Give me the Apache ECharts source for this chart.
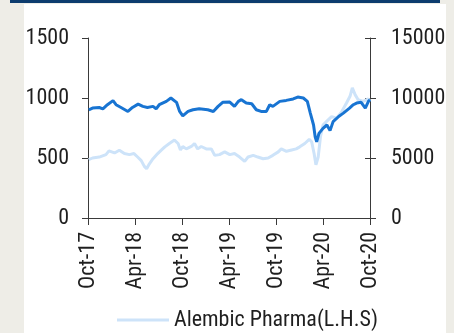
<!DOCTYPE html>
<html>
<head>
<meta charset="utf-8">
<script src="https://cdn.jsdelivr.net/npm/echarts@6/dist/echarts.min.js"></script>
<style>
  html, body { margin: 0; padding: 0; background: #eeede7; }
  #chart { width: 454px; height: 333px; }
</style>
</head>
<body>
<div id="chart"></div>
<script>
// Alembic Pharma share price (left axis, Rs)
const alembicDates = [
  '2017-10-04','2017-10-19','2017-11-14','2017-12-10','2017-12-22','2018-01-13','2018-02-01','2018-02-19',
  '2018-03-10','2018-03-28','2018-04-11','2018-04-25','2018-05-07','2018-05-16','2018-05-27','2018-06-10',
  '2018-06-28','2018-07-12','2018-07-26','2018-08-13','2018-09-02','2018-09-16','2018-09-25','2018-10-04',
  '2018-10-18','2018-11-07','2018-11-19','2018-12-01','2018-12-15','2019-01-04','2019-01-24','2019-02-06',
  '2019-02-23','2019-03-15','2019-04-04','2019-04-22','2019-05-12','2019-06-01','2019-06-14','2019-07-04',
  '2019-07-22','2019-08-12','2019-09-01','2019-09-19','2019-10-10','2019-10-22','2019-11-11','2019-12-01',
  '2019-12-19','2020-01-02','2020-01-22','2020-02-08','2020-02-17','2020-02-26','2020-03-04','2020-03-13',
  '2020-03-22','2020-04-01','2020-04-14','2020-05-04','2020-05-24','2020-06-13','2020-07-01','2020-07-15',
  '2020-07-24','2020-08-04','2020-08-16','2020-09-05','2020-09-25','2020-10-01'
];
const alembicValues = [
  486, 500, 508, 528, 559, 542, 565, 537,
  528, 537, 508, 478, 430, 410, 452, 494,
  537, 565, 593, 621, 649, 621, 567, 596,
  576, 596, 621, 576, 596, 576, 576, 522,
  528, 551, 528, 537, 508, 472, 508, 522,
  508, 494, 500, 522, 551, 576, 556, 567,
  576, 593, 621, 655, 635, 537, 444, 508,
  677, 775, 803, 845, 831, 887, 958, 1014,
  1085, 1028, 986, 972, 992, 972
];

// Sector index (right axis)
const indexDates = [
  '2017-10-04','2017-10-19','2017-11-14','2017-11-28','2017-12-16','2018-01-07','2018-01-19','2018-02-07',
  '2018-03-04','2018-03-22','2018-04-13','2018-05-01','2018-05-19','2018-06-10','2018-06-22','2018-07-04',
  '2018-08-01','2018-08-19','2018-09-10','2018-09-22','2018-10-04','2018-10-25','2018-11-13','2018-12-07',
  '2019-01-10','2019-02-01','2019-02-18','2019-03-07','2019-04-04','2019-04-22','2019-05-07','2019-05-19',
  '2019-06-07','2019-06-28','2019-07-16','2019-08-04','2019-08-25','2019-09-07','2019-09-19','2019-10-16',
  '2019-11-10','2019-12-07','2019-12-25','2020-01-16','2020-02-01','2020-02-12','2020-02-24','2020-03-01',
  '2020-03-07','2020-03-16','2020-04-01','2020-04-16','2020-04-28','2020-05-10','2020-06-01','2020-06-19',
  '2020-07-13','2020-07-28','2020-08-10','2020-08-28','2020-09-13','2020-09-25','2020-10-01'
];
const indexValues = [
  9020, 9160, 9210, 9100, 9440, 9780, 9440, 9210,
  8880, 9210, 9490, 9300, 9210, 9300, 9100, 9440,
  9720, 10000, 9640, 8880, 8510, 8880, 9020, 9100,
  9020, 8880, 9300, 9640, 9660, 9300, 9720, 9860,
  9580, 9520, 9020, 8880, 8880, 9440, 9300, 9720,
  9800, 9920, 10080, 10000, 9720, 8740, 7750, 6770,
  6350, 7050, 7470, 7750, 7280, 8030, 8460, 8740,
  9160, 9440, 9580, 9640, 9160, 9720, 9860
];

// Axis ticks and labels (x axis counted in months from Oct-17)
const xTickLabels = ['Oct-17','Apr-18','Oct-18','Apr-19','Oct-19','Apr-20','Oct-20'];
const leftTicks = [0, 500, 1000, 1500];
const rightTicks = [0, 5000, 10000, 15000];

const FONT = "'Liberation Sans Narrow', 'Roboto Condensed', 'Liberation Sans', Arial, sans-serif";
const TEXT = '#1f1f1f';
const AXIS = '#3a3a3a';

// date string -> months elapsed since 1 Oct 2017
const toMonths = s => {
  const [y, m, d] = s.split('-').map(Number);
  const days = new Date(y, m, 0).getDate();
  return (y - 2017) * 12 + (m - 10) + (d - 1) / days;
};

const plain = v => String(v);

const chart = echarts.init(document.getElementById('chart'), null, { renderer: 'canvas' });

chart.setOption({
  backgroundColor: '#eeede7',
  animation: false,
  graphic: [
    { type: 'rect', z: -10, silent: true, shape: { x: 24, y: 4, width: 422, height: 329 }, style: { fill: '#ffffff' } },
    { type: 'rect', z: -10, silent: true, shape: { x: 10, y: 0, width: 430, height: 3 }, style: { fill: '#0d3c6e' } }
  ],
  grid: { left: 88, right: 84, top: 38, bottom: 115, containLabel: false },
  legend: {
    left: 117,
    top: 309,
    padding: 0,
    data: ['Alembic Pharma(L.H.S)'],
    icon: 'rect',
    itemWidth: 52,
    itemHeight: 3,
    textStyle: { fontFamily: FONT, fontSize: 22, color: TEXT }
  },
  xAxis: {
    type: 'value',
    min: 0,
    max: 36,
    interval: 6,
    axisLine: { show: true, onZero: false, lineStyle: { color: AXIS, width: 1 } },
    axisTick: { show: true, length: 7, lineStyle: { color: AXIS } },
    axisLabel: {
      rotate: 90,
      margin: 14,
      fontFamily: FONT,
      fontSize: 22,
      color: TEXT,
      formatter: v => xTickLabels[Math.round(v / 6)] || ''
    },
    splitLine: { show: false }
  },
  yAxis: [
    {
      type: 'value', position: 'left',
      min: leftTicks[0], max: leftTicks[leftTicks.length - 1], interval: 500,
      axisLine: { show: true, lineStyle: { color: AXIS, width: 1 } },
      axisTick: { show: true, length: 6, lineStyle: { color: AXIS } },
      axisLabel: { margin: 19, fontFamily: FONT, fontSize: 22, color: TEXT, formatter: plain },
      splitLine: { show: false }
    },
    {
      type: 'value', position: 'right',
      min: rightTicks[0], max: rightTicks[rightTicks.length - 1], interval: 5000,
      axisLine: { show: true, lineStyle: { color: AXIS, width: 1 } },
      axisTick: { show: true, length: 6, lineStyle: { color: AXIS } },
      axisLabel: { margin: 21, fontFamily: FONT, fontSize: 22, color: TEXT, formatter: plain },
      splitLine: { show: false }
    },
    {
      // inner half of the right-hand ticks
      type: 'value', position: 'right',
      min: rightTicks[0], max: rightTicks[rightTicks.length - 1], interval: 5000,
      axisLine: { show: false },
      axisTick: { show: true, inside: true, length: 5, lineStyle: { color: AXIS } },
      axisLabel: { show: false },
      splitLine: { show: false }
    }
  ],
  series: [
    {
      name: 'Alembic Pharma(L.H.S)',
      type: 'line',
      yAxisIndex: 0,
      symbol: 'none',
      color: '#cde3f9',
      lineStyle: { color: '#cde3f9', width: 3 },
      data: alembicDates.map((d, i) => [toMonths(d), alembicValues[i]]),
      z: 2
    },
    {
      name: 'Index(R.H.S)',
      type: 'line',
      yAxisIndex: 1,
      symbol: 'none',
      color: '#1874d2',
      lineStyle: { color: '#1874d2', width: 3 },
      data: indexDates.map((d, i) => [toMonths(d), indexValues[i]]),
      z: 3
    }
  ]
});
</script>
</body>
</html>
